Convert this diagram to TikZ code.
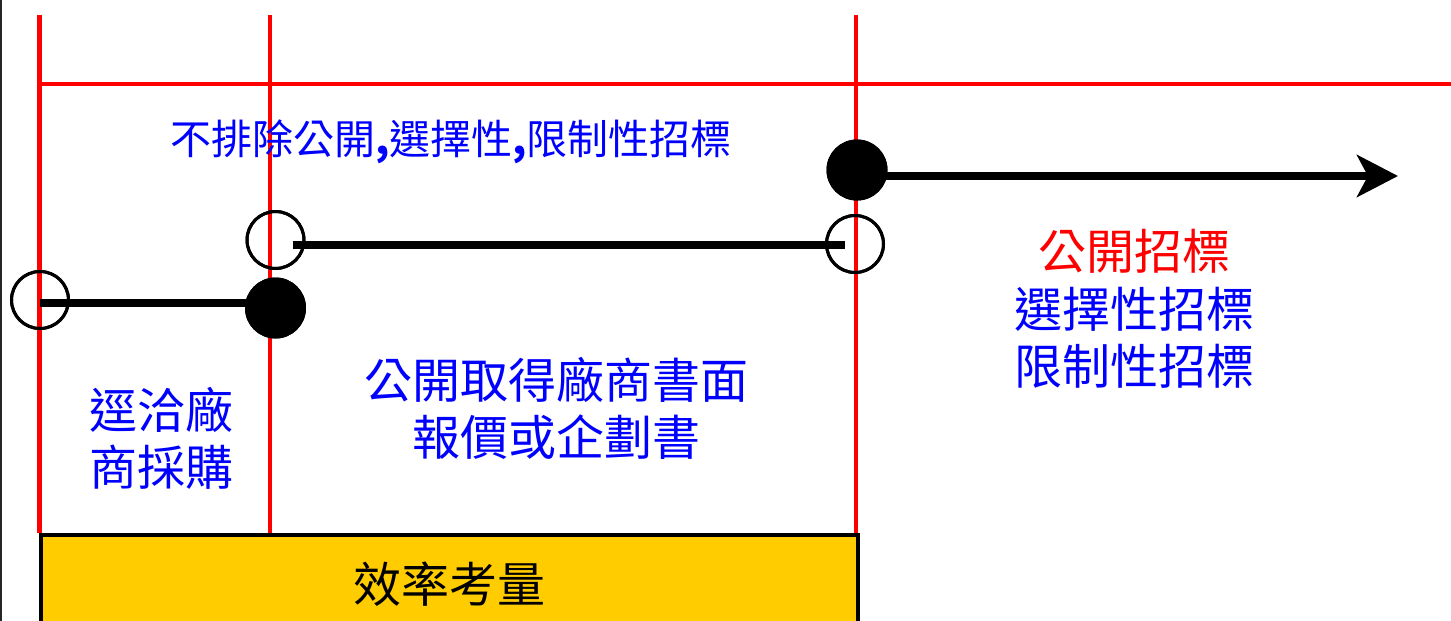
\documentclass[tikz,border=0pt]{standalone}
\usepackage{fontspec}
\newfontfamily\cjk{Noto Sans CJK TC}
\usetikzlibrary{arrows.meta}
\definecolor{boxyellow}{HTML}{FFCC00}
\begin{document}
\begin{tikzpicture}[x=1pt,y=-1pt,
  redline/.style={draw=red, line width=4.5pt},
  bar/.style={draw=black, line width=8pt},
  opencirc/.style={circle, draw=black, line width=3pt, minimum size=57pt, inner sep=0pt},
  fillcirc/.style={circle, fill=black, draw=black, line width=1pt, minimum size=60pt, inner sep=0pt},
  bigtxt/.style={font=\cjk\fontsize{48}{57}\selectfont, align=center, inner sep=0pt},
  effbox/.style={draw=black, line width=4pt, fill=boxyellow, inner sep=0pt, anchor=north west,
    minimum width=817pt, minimum height=98pt, font=\cjk\fontsize{48}{57}\selectfont, text=black}]
\useasboundingbox (0,0) rectangle (1451,621);
\clip (0,0) rectangle (1451,621);
\fill[white] (0,0) rectangle (1451,621);
% left border
\draw[line width=2pt, black!85] (1,0) -- (1,621);
% red grid
\draw[redline] (39.5,15) -- (39.5,533);
\draw[redline] (270,15) -- (270,533);
\draw[redline] (856,15) -- (856,533);
\draw[redline] (37.5,84) -- (1451,84);
% efficiency box
\node[effbox] (eff) at (39,533) {效率考量};
% circles
\node[opencirc] (o1) at (40,300) {};
\node[fillcirc] (f1) at (275.5,308) {};
\node[opencirc] (o2) at (275.5,240) {};
\node[opencirc] (o3) at (855,244) {};
\node[fillcirc] (f3) at (857,170) {};
\coordinate (arrowend) at (1398,176);
% bars
\draw[bar] ([yshift=-3pt]o1.center) -- ([yshift=5pt]f1.center);
\draw[bar] ([xshift=17pt,yshift=-5pt]o2.center) -- ([xshift=-10pt,yshift=-1pt]o3.center);
\draw[bar, -{Stealth[length=41pt, width=42pt, inset=11pt]}] ([yshift=-6pt]f3.center) -- (arrowend);
% redraw circles on top
\node[opencirc] at (o1.center) {};
\node[fillcirc] at (f1.center) {};
\node[opencirc] at (o2.center) {};
\node[opencirc] at (o3.center) {};
\node[fillcirc] at (f3.center) {};
% texts
\node[inner sep=0pt, text=blue, font=\cjk\fontsize{41}{48}\selectfont] (top) at (451,142) {不排除公開\textbf{,}選擇性\textbf{,}限制性招標};
\node[bigtxt, text=red] (gk) at (1134,251) {公開招標};
\node[bigtxt, text=blue] (xz) at (1134,309) {選擇性招標};
\node[bigtxt, text=blue] (xs) at (1134,366) {限制性招標};
\node[bigtxt, text=blue] (pub) at (556.5,408) {公開取得廠商書面\\報價或企劃書};
\node[bigtxt, text=blue] (xq) at (161.5,438) {逕洽廠\\商採購};
\end{tikzpicture}
\end{document}
